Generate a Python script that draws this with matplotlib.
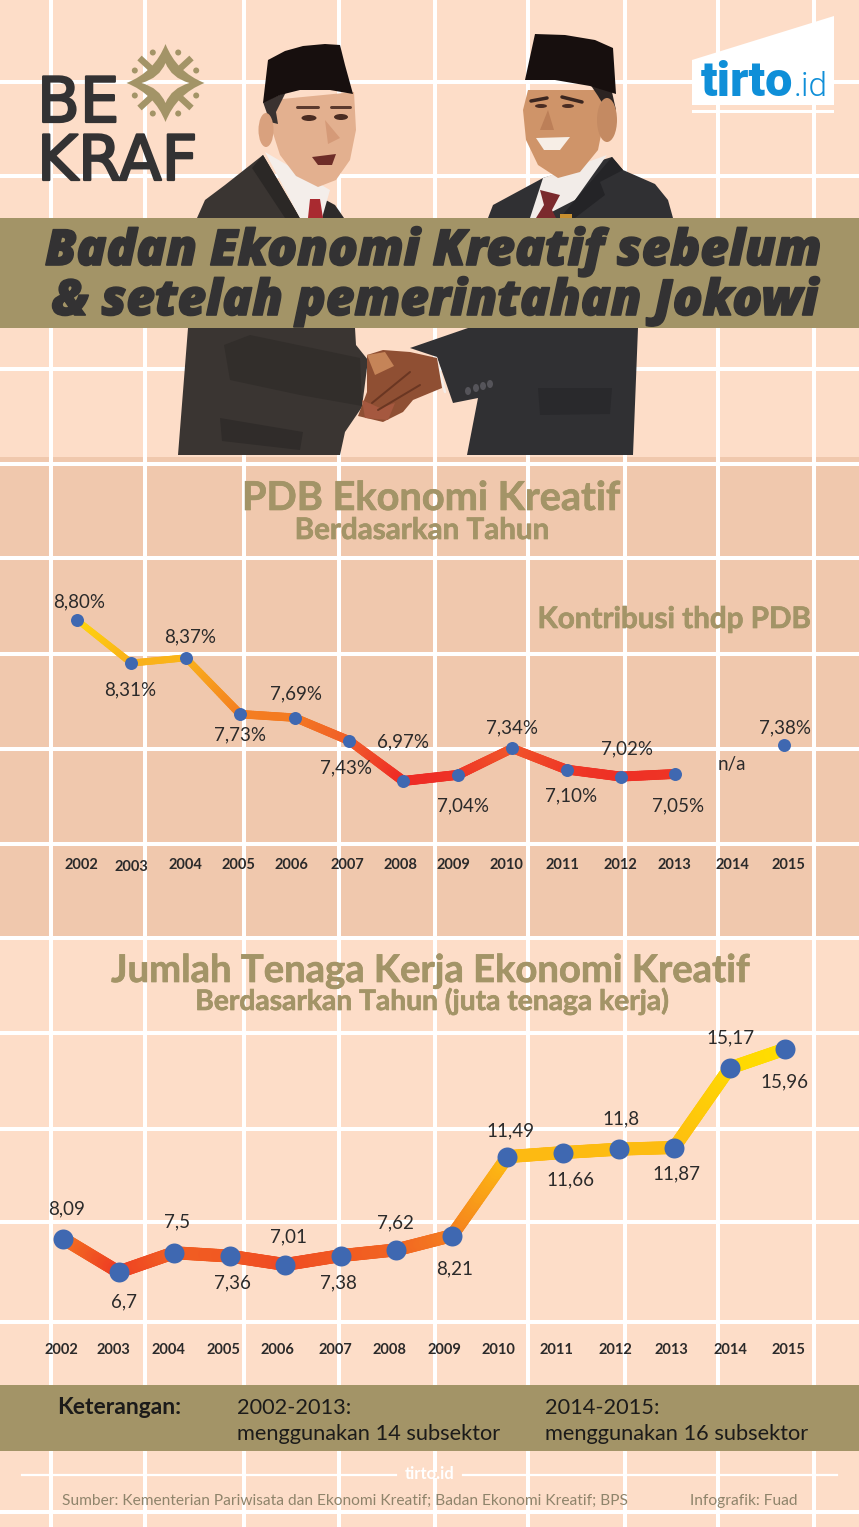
import numpy as np
import matplotlib

matplotlib.use("Agg")

import matplotlib.patheffects as pe
import matplotlib.pyplot as plt
from matplotlib.collections import LineCollection
from matplotlib.colors import LinearSegmentedColormap
from matplotlib.patches import Circle, Ellipse, PathPatch, Polygon, Rectangle
from matplotlib.path import Path
from matplotlib.transforms import ScaledTranslation

WIDTH, HEIGHT = 859, 1527

YEARS = list(range(2002, 2016))

# PDB chart, 2014 is not available
PDB_VALUES = [8.80, 8.31, 8.37, 7.73, 7.69, 7.43, 6.97, 7.04, 7.34, 7.10, 7.02, 7.05, np.nan, 7.38]
PDB_LABELS = ["8,80%", "8,31%", "8,37%", "7,73%", "7,69%", "7,43%", "6,97%",
              "7,04%", "7,34%", "7,10%", "7,02%", "7,05%", "n/a", "7,38%"]

# workers chart
WORKER_VALUES = [8.09, 6.7, 7.5, 7.36, 7.01, 7.38, 7.62, 8.21, 11.49, 11.66, 11.8, 11.87, 15.17, 15.96]
WORKER_LABELS = ["8,09", "6,7", "7,5", "7,36", "7,01", "7,38", "7,62",
                 "8,21", "11,49", "11,66", "11,8", "11,87", "15,17", "15,96"]

# label nudges in pixels, the original was placed by hand
PDB_LABEL_OFFSETS = [(2.5, 18.5), (-1.4, -27), (4, 21), (0, -21), (1.5, 23.6), (-3, -27.5), (0, 39),
                     (5, -30.7), (0, 20.7), (4.4, -26), (6, 27.6), (2.6, -31.7), (0, 0), (0.8, 17.3)]
WORKER_LABEL_OFFSETS = [(3.3, 29.2), (5.2, -29.7), (2.9, 30.4), (3.2, -27.2), (3.6, 27.8), (-2.8, -27.7),
                        (-1.4, 27.1), (2.9, -33.4), (2.5, 25.7), (7, -27.4), (2.4, 29.9), (1.8, -26.8),
                        (0.3, 29.7), (-1.3, -33.3)]
PDB_YEAR_NUDGE = [4, -0.4, -0.8, -2.2, -3.6, -2, -3.4, -4.8, -6.2, -4.6, -1, -0.9, 2.2, 4.3]
WORKER_YEAR_NUDGE = [-1.6, -5.6, -5.3, -6.7, -8.2, -5.8, -6.8, -7.9, -9.5, -7, -3.6, -3.2, 0.3, 2.7]

GRID_X = [51, 145, 244, 338.5, 434.5, 528, 624.5, 718, 814]
GRID_Y = [82, 176, 272, 369, 464, 558, 654, 749, 844, 938, 1033, 1129, 1222, 1322, 1418, 1512]

BG = "#FDDDC8"
PANEL = "#F0C8AD"
GOLD = "#A39467"
DARK = "#333233"
INK = "#2B2A2A"
BLUE = "#3F68B1"
TIRTO = "#0F8FD8"

PDB_CMAP = LinearSegmentedColormap.from_list(
    "pdb", [(0.0, "#EE2A24"), (0.2, "#F0562A"), (0.42, "#F47F20"), (0.72, "#F9AE1C"), (1.0, "#FFD80A")]
)
WORKER_CMAP = LinearSegmentedColormap.from_list(
    "workers", [(0.0, "#EE3E23"), (0.16, "#F47B20"), (0.5, "#FDB813"), (1.0, "#FFDD00")]
)

plt.rcParams["font.family"] = ["Lato", "DejaVu Sans"]

fig = plt.figure(figsize=(WIDTH / 100, HEIGHT / 100), dpi=100, facecolor=BG)

# whole page in pixel coordinates for the decoration
bg = fig.add_axes([0, 0, 1, 1])
bg.set_xlim(0, WIDTH)
bg.set_ylim(HEIGHT, 0)
bg.axis("off")


def poly(points, color, zorder=3):
    bg.add_patch(Polygon(points, closed=True, facecolor=color, edgecolor="none", zorder=zorder))


def oval(x, y, w, h, color, zorder=4, angle=0):
    bg.add_patch(Ellipse((x, y), w, h, angle=angle, facecolor=color, edgecolor="none", zorder=zorder))


def stroke(points, color, width, zorder=4):
    xs, ys = zip(*points)
    bg.plot(xs, ys, color=color, lw=width / 1.39, zorder=zorder, solid_capstyle="round")


def thicken(color, width):
    return [pe.withStroke(linewidth=width, foreground=color)]


def draw_page():
    bg.add_patch(Rectangle((0, 457), WIDTH, 480, facecolor=PANEL, edgecolor="none", zorder=1))
    for x in GRID_X:
        bg.plot([x, x], [0, HEIGHT], color="white", lw=2.9, zorder=2, solid_capstyle="butt")
    for y in GRID_Y:
        bg.plot([0, WIDTH], [y, y], color="white", lw=2.9, zorder=2, solid_capstyle="butt")
    bg.add_patch(Rectangle((0, 218), WIDTH, 110, facecolor=GOLD, edgecolor="none", zorder=6))
    bg.add_patch(Rectangle((0, 1385), WIDTH, 66, facecolor=GOLD, edgecolor="none", zorder=6))


def draw_left_man():
    suit = "#3A3532"
    poly([(197, 218), (205, 200), (225, 185), (263, 155), (300, 218)], suit)
    poly([(263, 155), (300, 218), (285, 218), (252, 168)], "#2B2826")
    poly([(322, 198), (335, 205), (344, 218), (318, 218)], "#2E2B2A")
    poly([(265, 152), (330, 190), (322, 218), (300, 218)], "#F4EEEA")
    poly([(310, 199), (320, 199), (323, 218), (308, 218)], "#A92A30")
    oval(266, 130, 15, 34, "#D9A17E")
    poly([(272, 100), (354, 92), (356, 130), (350, 160), (336, 180), (318, 187), (296, 176),
          (280, 155), (272, 130)], "#E3B08F")
    poly([(263, 102), (286, 92), (276, 112), (278, 124), (270, 122)], "#3A3230")
    poly([(268, 60), (285, 51), (303, 46), (325, 44), (340, 45), (345, 65), (353, 94), (330, 90),
          (300, 90), (280, 95), (263, 103)], "#170F0E")
    oval(309, 118, 15, 6, "#4A2C22")
    oval(341, 117, 14, 6, "#4A2C22")
    stroke([(297, 107), (318, 107)], "#5B3A2E", 3)
    stroke([(331, 107), (350, 107)], "#5B3A2E", 3)
    poly([(325, 120), (340, 138), (328, 144)], "#D59A78")
    poly([(312, 157), (336, 154), (332, 165), (318, 165)], "#6E2D28")
    # lower half
    poly([(188, 328), (355, 328), (356, 345), (368, 360), (362, 407), (345, 432), (340, 455), (178, 455)], suit)
    poly([(220, 418), (303, 432), (300, 450), (222, 441)], "#302C2A")
    poly([(224, 345), (250, 335), (360, 358), (362, 406), (300, 395), (230, 380)], "#322E2B")


def draw_right_man():
    suit = "#303033"
    poly([(488, 218), (493, 205), (543, 178), (612, 157), (623, 170), (655, 184), (668, 200), (673, 218)], suit)
    poly([(543, 178), (607, 155), (575, 200), (540, 218), (530, 218)], "#F2ECE8")
    poly([(612, 157), (623, 170), (600, 182), (605, 195), (575, 218), (560, 218), (575, 200)], "#242427")
    poly([(540, 190), (560, 195), (552, 210), (556, 218), (536, 218), (544, 205)], "#7B2A2D")
    poly([(560, 214), (572, 214), (572, 218), (560, 218)], "#C9902F", zorder=5)
    oval(607, 120, 20, 44, "#C48A62")
    poly([(528, 90), (600, 90), (603, 125), (598, 150), (580, 172), (558, 178), (538, 165), (526, 140), (523, 110)],
         "#CF9469")
    poly([(590, 84), (612, 92), (616, 110), (604, 106), (598, 96)], "#2C2422")
    poly([(535, 34), (565, 35), (595, 40), (613, 48), (616, 94), (590, 86), (555, 80), (525, 80)], "#170F0E")
    stroke([(531, 101), (547, 98)], "#3B2620", 3.5)
    stroke([(562, 97), (582, 102)], "#3B2620", 3.5)
    oval(541, 106, 12, 4, "#4A2C22")
    oval(568, 106, 12, 4, "#4A2C22")
    poly([(548, 110), (554, 130), (540, 130)], "#BC7F58")
    poly([(536, 138), (570, 137), (560, 150), (544, 150)], "#F7EEE6")
    # lower half
    poly([(468, 328), (638, 328), (633, 455), (467, 455), (478, 398), (453, 403), (437, 357), (410, 348)], suit)
    poly([(538, 388), (612, 388), (610, 414), (540, 415)], "#29292C")
    stroke([(436, 358), (445, 392)], "#F4EEEA", 2.5, zorder=5)
    for x, y in [(468, 391), (476, 388), (483, 386), (490, 384)]:
        oval(x, y, 6, 8, "#55545A", zorder=5)


def draw_hands():
    poly([(367, 355), (383, 350), (410, 352), (437, 358), (442, 388), (413, 400), (403, 412), (383, 422),
          (358, 416), (367, 392)], "#8F4F33", zorder=5)
    poly([(367, 355), (385, 352), (394, 366), (375, 375)], "#C58458", zorder=5)
    poly([(362, 400), (380, 408), (395, 403), (388, 420), (365, 418)], "#A5583F", zorder=5)
    stroke([(372, 403), (410, 372)], "#6A3622", 2, zorder=6)
    stroke([(378, 410), (420, 385)], "#6A3622", 2, zorder=6)


def star_path(cx, cy, tip_x, tip_y, ctrl_x, ctrl_y, reverse=False):
    tips = [(cx + tip_x, cy), (cx, cy - tip_y), (cx - tip_x, cy), (cx, cy + tip_y)]
    ctrls = [(cx + ctrl_x, cy - ctrl_y), (cx - ctrl_x, cy - ctrl_y), (cx - ctrl_x, cy + ctrl_y), (cx + ctrl_x, cy + ctrl_y)]
    verts, codes = [tips[0]], [Path.MOVETO]
    steps = [3, 2, 1, 0] if reverse else [0, 1, 2, 3]
    for i in steps:
        end = tips[i] if reverse else tips[(i + 1) % 4]
        verts += [ctrls[i], end]
        codes += [Path.CURVE3, Path.CURVE3]
    return verts, codes


def draw_logos():
    cx, cy = 165.5, 83
    # bekraf star ornament, the inner star runs the other way to leave a hole
    outer_v, outer_c = star_path(cx, cy, 39, 39, 11, 11)
    inner_v, inner_c = star_path(cx, cy, 24, 20, 6, 5, reverse=True)
    bg.add_patch(PathPatch(Path(outer_v + inner_v, outer_c + inner_c), facecolor=GOLD, edgecolor="none", zorder=4))
    for sx in (-1, 1):
        for sy in (-1, 1):
            bg.plot([cx + sx * 13, cx + sx * 26], [cy + sy * 13, cy + sy * 25], color=GOLD, lw=4.6,
                    solid_capstyle="butt", zorder=4)
            bg.add_patch(Circle((cx + sx * 12.7, cy + sy * 30.5), 3, facecolor=GOLD, edgecolor="none", zorder=4))
            bg.add_patch(Circle((cx + sx * 30.7, cy + sy * 12.5), 3, facecolor=GOLD, edgecolor="none", zorder=4))
    for y, word in [(122, "BE"), (180, "KRAF")]:
        bg.text(37, y, word, fontsize=45, family="DejaVu Sans", color=DARK, ha="left", va="baseline", zorder=4,
                path_effects=thicken(DARK, 1.6))
    # tirto badge
    poly([(692, 60), (834, 16), (834, 105), (692, 105)], "white")
    bg.add_patch(Rectangle((692, 110), 142, 3, facecolor="white", edgecolor="none", zorder=3))
    bg.text(701, 96, "tirto", fontsize=35, family="Roboto", weight=900, color=TIRTO, ha="left", va="baseline", zorder=4)
    bg.text(794, 96, ".id", fontsize=24, family="Roboto", weight=300, color=TIRTO, ha="left", va="baseline", zorder=4)


def draw_text():
    for text, x, y in [("Badan Ekonomi Kreatif sebelum", 433, 265), ("& setelah pemerintahan Jokowi", 435, 315)]:
        bg.text(x, y, text, fontsize=35.6, family="Open Sans", weight=800, style="italic", color=DARK,
                ha="center", va="baseline", zorder=7, path_effects=thicken(DARK, 1.2))
    heads = [
        ("PDB Ekonomi Kreatif", 431, 510, 28.6),
        ("Berdasarkan Tahun", 422, 539, 21.3),
        ("Kontribusi thdp PDB", 674, 628, 21.3),
        ("Jumlah Tenaga Kerja Ekonomi Kreatif", 431, 982, 27.5),
        ("Berdasarkan Tahun (juta tenaga kerja)", 433, 1010, 20.3),
    ]
    for text, x, y, size in heads:
        bg.text(x, y, text, fontsize=size, weight="bold", color=GOLD, ha="center", va="baseline", zorder=7,
                path_effects=thicken(GOLD, 0.5))
    bg.text(57, 1414, "Keterangan:", fontsize=16.5, weight="bold", color="#1C1B1A", va="baseline", zorder=7)
    for x, first, second in [(237, "2002-2013:", "menggunakan 14 subsektor"), (545, "2014-2015:", "menggunakan 16 subsektor")]:
        bg.text(x, 1414, first, fontsize=15.7, color="#1C1B1A", va="baseline", zorder=7)
        bg.text(x, 1440, second, fontsize=15.7, color="#1C1B1A", va="baseline", zorder=7)
    # footer rule with the tirto.id gap
    bg.plot([22, 396], [1474.5, 1474.5], color="white", lw=1.6, zorder=3)
    bg.plot([463, 837], [1474.5, 1474.5], color="white", lw=1.6, zorder=3)
    bg.add_patch(Rectangle((396, 1472), 67, 6, facecolor=BG, edgecolor="none", zorder=2.5))
    bg.text(430, 1479, "tirto.id", fontsize=12, weight="bold", color="white", ha="center", va="baseline", zorder=4)
    bg.text(62, 1505, "Sumber: Kementerian Pariwisata dan Ekonomi Kreatif; Badan Ekonomi Kreatif; BPS",
            fontsize=11.2, color="#8F846B", va="baseline", zorder=4)
    bg.text(690, 1505, "Infografik: Fuad", fontsize=11.2, color="#8F846B", va="baseline", zorder=4)


def make_chart(left, right, top, bottom, x_scale, x_first, y_ref_px, y_ref, y_scale):
    ax = fig.add_axes([left / WIDTH, 1 - bottom / HEIGHT, (right - left) / WIDTH, (bottom - top) / HEIGHT])
    ax.patch.set_alpha(0)
    ax.set_xlim(2002 - (x_first - left) / x_scale, 2002 + (right - x_first) / x_scale)
    ax.set_ylim(y_ref - (bottom - y_ref_px) / y_scale, y_ref + (y_ref_px - top) / y_scale)
    for spine in ax.spines.values():
        spine.set_visible(False)
    ax.set_yticks([])
    return ax


def gradient_line(ax, years, values, cmap, vmin, vmax, width_low, width_high):
    # each stretch between two years is cut into short pieces so the colour can run
    segments, colors, widths = [], [], []
    for i in range(len(years) - 1):
        if np.isnan(values[i]) or np.isnan(values[i + 1]):
            continue
        xs = np.linspace(years[i], years[i + 1], 30)
        ys = np.linspace(values[i], values[i + 1], 30)
        for j in range(29):
            segments.append([(xs[j], ys[j]), (xs[j + 1], ys[j + 1])])
            t = ((ys[j] + ys[j + 1]) / 2 - vmin) / (vmax - vmin)
            colors.append(cmap(t))
            widths.append((width_low + (width_high - width_low) * t) / 1.39)
    ax.add_collection(LineCollection(segments, colors=colors, linewidths=widths, capstyle="round", zorder=3))


def finish_chart(ax, values, labels, offsets, year_nudge, marker_px, pad_px, year_drop=None):
    ax.plot(YEARS, values, linestyle="none", marker="o", ms=marker_px / 1.39, mfc=BLUE, mec="none", zorder=4)
    ax.set_xticks(YEARS, labels=[str(y) for y in YEARS])
    ax.tick_params(axis="x", length=0, pad=pad_px / 1.39)
    for i, (tick, dx) in enumerate(zip(ax.get_xticklabels(), year_nudge)):
        dy = year_drop[i] if year_drop else 0
        tick.set_transform(tick.get_transform() + ScaledTranslation(dx / 100, -dy / 100, fig.dpi_scale_trans))
        tick.set_fontsize(10.5)
        tick.set_fontweight("bold")
        tick.set_color(INK)
    for year, value, label, (dx, dy) in zip(YEARS, values, labels, offsets):
        if np.isnan(value):
            continue
        ax.annotate(label, (year, value), xytext=(dx, dy), textcoords="offset pixels",
                    ha="center", va="center", fontsize=13.5, color=INK, zorder=5)


draw_page()
draw_left_man()
draw_right_man()
draw_hands()
draw_logos()
draw_text()

pdb_ax = make_chart(51, 814, 558, 844, 54.4, 77, 781, 6.97, 88)
gradient_line(pdb_ax, YEARS, PDB_VALUES, PDB_CMAP, 6.97, 8.80, 10, 6)
finish_chart(pdb_ax, PDB_VALUES, PDB_LABELS, PDB_LABEL_OFFSETS, PDB_YEAR_NUDGE, 13, 14,
             year_drop=[0, 2, 0, 0, 0, 0, 0, 0, 0, 0, 0, 0, 0, 0])
pdb_ax.text(2014 + 1.7 / 54.4, 7.163, "n/a", ha="center", va="center", fontsize=13.5, color=INK, zorder=5)

worker_ax = make_chart(51, 814, 1033, 1322, 55.56, 63, 1272, 6.7, 24.08)
gradient_line(worker_ax, YEARS, WORKER_VALUES, WORKER_CMAP, 6.7, 15.96, 13, 13)
finish_chart(worker_ax, WORKER_VALUES, WORKER_LABELS, WORKER_LABEL_OFFSETS, WORKER_YEAR_NUDGE, 20, 21)

fig.savefig("out.png", dpi=100, facecolor=BG)
plt.close(fig)
